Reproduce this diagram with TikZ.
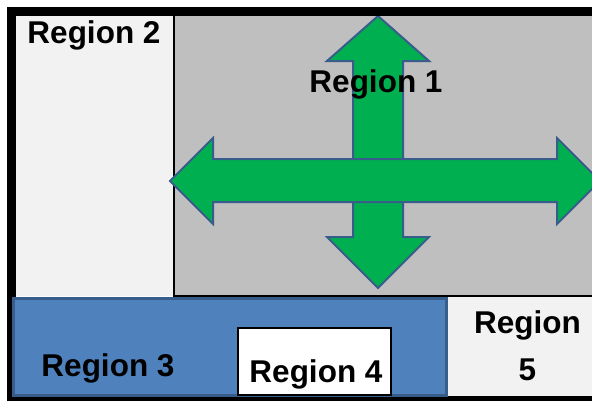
\documentclass[tikz,border=0pt]{standalone}
\usepackage{fontspec}
\setmainfont{Liberation Sans}
\usetikzlibrary{positioning}
\definecolor{lightfill}{HTML}{F2F2F2}
\definecolor{grayfill}{HTML}{BFBFBF}
\definecolor{bluefill}{HTML}{4F81BD}
\definecolor{blueline}{HTML}{385D8A}
\definecolor{arrowgreen}{HTML}{00B050}
\tikzset{
	regionlabel/.style={font=\fontsize{31.5}{47}\selectfont\bfseries, inner sep=0pt, align=center, anchor=base},
	arrowshape/.style={fill=arrowgreen, draw=blueline, line width=2pt, line join=miter}
}
\begin{document}
\begin{tikzpicture}[x=1pt,y=-1pt]
		\clip (0,0) rectangle (592,400);
		\fill[white] (0,0) rectangle (592,400);
		\coordinate (tl) at (16,16);
		\coordinate (mid) at (174,296);
		\fill[grayfill] (174,16) rectangle (592,296); % Region 1.
		\fill[lightfill] (tl) rectangle (mid); % Region 2.
		\fill[lightfill] (447,296) rectangle (592,396); % Region 5.
		\draw[line width=1.5pt] (174,16) -- (mid) -- (592,296);

		\draw[arrowshape] (378,16) -- (429,61) -- (403,61) -- (403,237) -- (429,237) -- (378,288) -- (327,237) -- (353,237) -- (353,61) -- (327,61) -- cycle; % Up and down.
		\draw[arrowshape] (170,181) -- (213,138) -- (213,159) -- (557,159) -- (557,138) -- (600,181) -- (557,224) -- (557,202) -- (213,202) -- (213,224) -- cycle; % Left and right.

		\draw[line width=9pt] (11.5,400) -- (11.5,11.5) -- (596,11.5) -- (596,400) -- cycle; % Frame.
		\draw[fill=bluefill, draw=blueline, line width=3pt] (13.5,298.5) rectangle (446.5,395); % Region 3.
		\draw[fill=white, line width=1.5pt] (238,328) rectangle (391,395); % Region 4.

		\node[regionlabel] (r1) at (376,92) {Region 1};
		\node[regionlabel] (r2) at (94,43) {Region 2};
		\node[regionlabel] (r3) at (108,376) {Region 3};
		\node[regionlabel] (r4) at (316,382) {Region 4};
		\node[regionlabel] (r5) at (527.5,380) {Region\\5};
	\end{tikzpicture}
\end{document}
